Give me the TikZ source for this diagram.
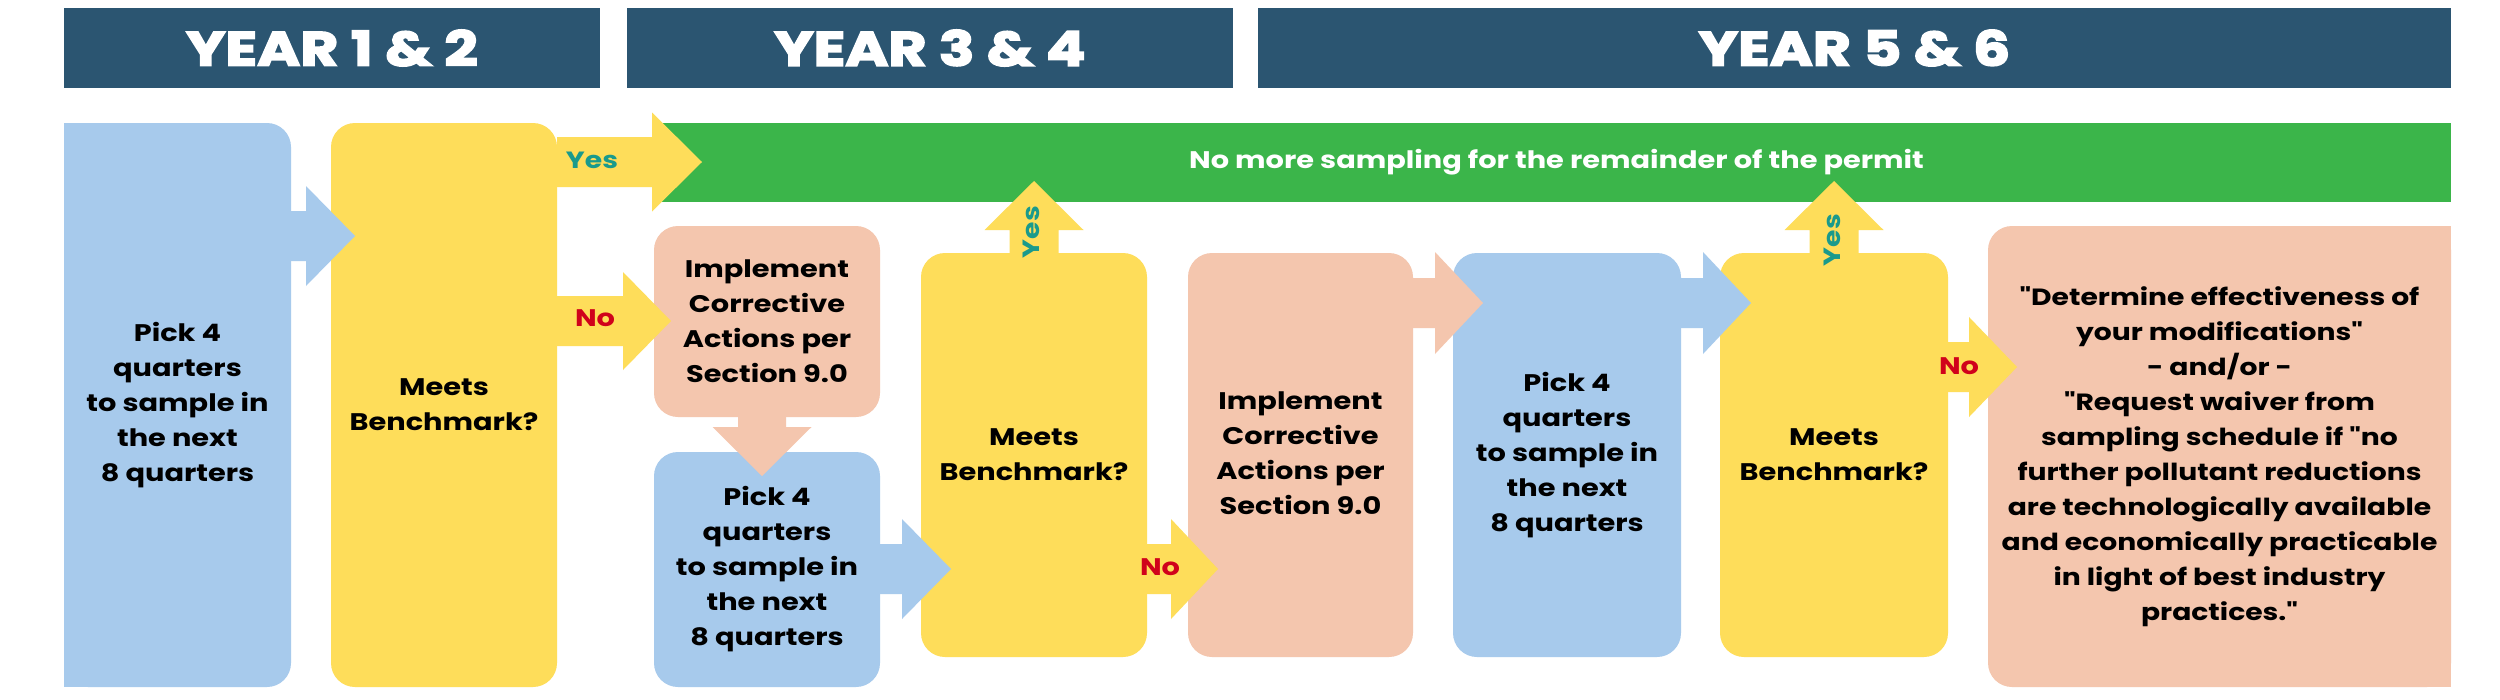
\documentclass[tikz,border=0pt]{standalone}
\usepackage{fontspec}
\setmainfont{Poppins}[FakeStretch=1.2, Ligatures=TeXOff]
\newfontfamily\hdrfont{Poppins}[FakeStretch=1.22, BoldFeatures={FakeBold=3.5}]
\usetikzlibrary{calc}
\definecolor{hdrc}{HTML}{2B5571}
\definecolor{lblue}{HTML}{A7CAEC}
\definecolor{ylw}{HTML}{FEDD5A}
\definecolor{salm}{HTML}{F4C6AE}
\definecolor{grn}{HTML}{3BB54A}
\definecolor{yesc}{HTML}{1A9A8C}
\definecolor{noc}{HTML}{D0021B}
\tikzset{
  box/.style={inner sep=0pt, outer sep=0pt, rounded corners=24pt, align=center,
    font=\bfseries\fontsize{24}{35}\selectfont},
  hdrbox/.style={inner sep=0pt, outer sep=0pt, fill=hdrc, text=white,
    font=\hdrfont\bfseries\fontsize{48}{50}\selectfont},
  yeslbl/.style={inner sep=0pt, text=yesc, font=\bfseries\fontsize{23.5}{28}\selectfont},
  nolbl/.style={inner sep=0pt, text=noc, font=\bfseries\fontsize{24}{28}\selectfont}
}
% box: name, colour, style, x0, y0, x1, y1, text
\newcommand{\mkbox}[8]{%
  \node[#3, fill=#2, minimum width={#6-#4}, minimum height={#7-#5}]
    (#1) at ({(#4+#6)/2},{(#5+#7)/2}) {#8};}
% horizontal block arrow: colour, start, shaft length, head length, half shaft, half head
\newcommand{\harr}[6]{%
  \fill[#1] ($(#2)+(0,-#5)$) -- ++(#3,0) -- ++(0,{-(#6-#5)}) -- ++(#4,#6)
    -- ++(-#4,#6) -- ++(0,{-(#6-#5)}) -- ++(-#3,0) -- cycle;}
% upward block arrow
\newcommand{\uarr}[6]{%
  \fill[#1] ($(#2)+(-#5,0)$) -- ++(0,-#3) -- ++({-(#6-#5)},0) -- ++(#6,-#4)
    -- ++(#6,#4) -- ++({-(#6-#5)},0) -- ++(0,#3) -- cycle;}
% downward block arrow
\newcommand{\darr}[6]{%
  \fill[#1] ($(#2)+(-#5,0)$) -- ++(0,#3) -- ++({-(#6-#5)},0) -- ++(#6,#4)
    -- ++(#6,-#4) -- ++({-(#6-#5)},0) -- ++(0,-#3) -- cycle;}
\begin{document}
\begin{tikzpicture}[x=1pt,y=-1pt]
\useasboundingbox (0,0) rectangle (2500,699);
\fill[white] (0,0) rectangle (2500,699);
% headers
\mkbox{h1}{hdrc}{hdrbox}{64}{8}{600}{88}{YEAR 1 \& 2}
\mkbox{h2}{hdrc}{hdrbox}{627}{8}{1233}{88}{YEAR 3 \& 4}
\mkbox{h3}{hdrc}{hdrbox}{1258}{8}{2451}{88}{YEAR 5 \& 6}
% green bar
\mkbox{gb}{grn}{box,rounded corners=0pt,text=white}{662}{123}{2451}{202}{No more sampling for the remainder of the permit}
% square sides of the first and last boxes
\fill[lblue] (64,123) rectangle (94,687);
\fill[salm] (2421,226) rectangle (2451,687);
% boxes
\mkbox{b1}{lblue}{box}{64}{123}{291}{687}{Pick 4\\quarters\\to sample in\\the next\\8 quarters}
\mkbox{y1}{ylw}{box}{331}{123}{557}{687}{Meets\\Benchmark?}
\mkbox{s1}{salm}{box}{654}{226}{880}{417}{Implement\\Corrective\\Actions per\\Section 9.0}
\mkbox{b2}{lblue}{box}{654}{452}{880}{687}{Pick 4\\quarters\\to sample in\\the next\\8 quarters}
\mkbox{y2}{ylw}{box}{921}{253}{1147}{657}{Meets\\Benchmark?}
\mkbox{s2}{salm}{box}{1188}{253}{1413}{657}{\raisebox{19pt}{\begin{tabular}{@{}c@{}}Implement\\Corrective\\Actions per\\Section 9.0\end{tabular}}}
\mkbox{b3}{lblue}{box}{1453}{253}{1681}{657}{Pick 4\\quarters\\to sample in\\the next\\8 quarters}
\mkbox{y3}{ylw}{box}{1720}{253}{1948}{657}{Meets\\Benchmark?}
\mkbox{s3}{salm}{box,font=\bfseries\fontsize{23.5}{35}\selectfont}{1988}{226}{2451}{687}{"Determine effectiveness of\\your modifications"\\- and/or -\\"Request waiver from\\sampling schedule if "no\\further pollutant reductions\\are technologically available\\and economically practicable\\in light of best industry\\practices."}
% arrows
\harr{lblue}{b1.east |- 0,236}{15}{49}{25}{50}
\harr{ylw}{y1.east |- 0,162}{95}{50}{25}{49.5}
\harr{ylw}{y1.east |- 0,321}{66}{48}{25}{49}
\darr{salm}{s1.south -| 762,0}{10}{49}{24}{49.5}
\harr{lblue}{b2.east |- 0,569}{22}{49}{25}{50}
\uarr{ylw}{y2.north}{23}{49}{24.5}{49.5}
\harr{ylw}{y2.east |- 0,569}{24}{47}{25}{50}
\harr{salm}{s2.east |- 0,303}{22}{48}{25}{51}
\harr{lblue}{b3.east |- 0,303}{22}{48}{25}{51}
\uarr{ylw}{y3.north}{23}{49}{24.5}{49.5}
\harr{ylw}{y3.east |- 0,367}{21}{48}{25}{50}
% labels
\node[yeslbl] (yes1) at (592,160) {Yes};
\node[nolbl] (no1) at (595,318) {No};
\node[yeslbl,rotate=90] (yes2) at (1031,232) {Yes};
\node[nolbl] (no2) at (1160,567) {No};
\node[yeslbl,rotate=90] (yes3) at (1832,240) {Yes};
\node[nolbl] (no3) at (1959,366) {No};
\end{tikzpicture}
\end{document}
